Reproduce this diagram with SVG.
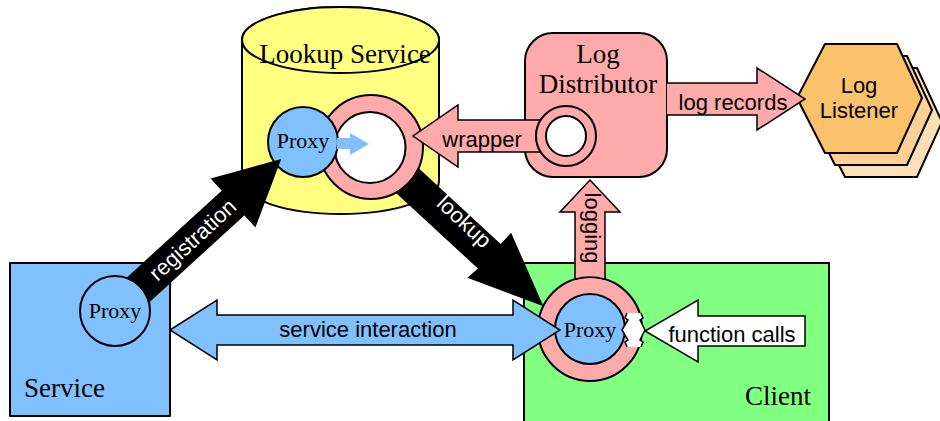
<svg xmlns="http://www.w3.org/2000/svg" width="940" height="421" viewBox="0 0 940 421">
  <style>
    .ol { stroke: #000; stroke-width: 2; stroke-linejoin: round; }
    .thin { stroke: #000; stroke-width: 1.5; stroke-linejoin: miter; }
    .yellow { fill: #ffff80; }
    .pink { fill: #ffaaaa; }
    .blue { fill: #80c0ff; }
    .green { fill: #80ff80; }
    .white { fill: #ffffff; }
    .serif { font-family: "Liberation Serif", "Times New Roman", serif; fill: #000; }
    .sans { font-family: "Liberation Sans", Arial, sans-serif; fill: #000; }
    .big { font-size: 27px; }
    .proxy { font-size: 22px; text-anchor: middle; }
    .lbl { font-size: 22px; text-anchor: middle; }
    .inv { fill: #ffffff; }
  </style>

  <!-- Lookup Service: cylinder with a wrapped proxy inside -->
  <g id="lookup-service">
    <path class="yellow ol" d="M242,40 L242,181 A98.5,33 0 0 0 439,181 L439,40 A98.5,33 0 0 0 242,40 Z"/>
    <ellipse class="yellow ol" cx="340.5" cy="40" rx="98.5" ry="33"/>
    <text class="serif big" x="345" y="63" text-anchor="middle">Lookup Service</text>
    <circle class="pink ol" cx="371" cy="147" r="52"/>
    <circle class="white ol" cx="370" cy="147.5" r="35.5"/>
    <circle class="blue ol" cx="303" cy="142" r="35"/>
    <text class="serif proxy" x="303" y="148">Proxy</text>
  </g>

  <!-- Log Distributor -->
  <g id="log-distributor">
    <rect class="pink ol" x="525" y="33" width="142" height="144" rx="28" ry="28"/>
    <text class="serif big" x="598" y="63" text-anchor="middle">Log</text>
    <text class="serif big" x="598" y="93" text-anchor="middle">Distributor</text>
  </g>

  <!-- Log Listener: a stack of three hexagons -->
  <g id="log-listener">
    <polygon class="ol" fill="#fddfb6" points="817,122 845,68 917,68 942,122 917,177 845,177"/>
    <polygon class="ol" fill="#fcd096" points="807,110 835,56 907,56 932,110 907,165 835,165"/>
    <polygon class="ol" fill="#fbc26b" points="797,98 825,44 897,44 922,98 897,153 825,153"/>
    <text class="sans lbl" x="859" y="93">Log</text>
    <text class="sans lbl" x="859" y="118">Listener</text>
  </g>

  <!-- Service -->
  <g id="service">
    <rect class="blue ol" x="10" y="263" width="160" height="153"/>
    <text class="serif big" x="24" y="397">Service</text>
    <circle class="blue ol" cx="115" cy="311" r="35"/>
    <text class="serif proxy" x="115" y="318">Proxy</text>
  </g>

  <!-- Client with its wrapped proxy -->
  <g id="client">
    <rect class="green ol" x="524" y="263" width="305" height="170"/>
    <text class="serif big" x="745" y="405">Client</text>
    <circle class="pink ol" cx="590" cy="329" r="52"/>
    <circle class="blue ol" cx="590" cy="329" r="35"/>
    <text class="serif proxy" x="590" y="337">Proxy</text>
    <polygon class="white" points="627,313 641,313 643,318 640,320 645,330 640,340 643,342 641,347 627,347 625,342 628,340 622,330 628,320 625,318"/>
    <polyline fill="none" class="thin" points="627,313 625,318 628,320 622,330 628,340 625,342 627,347"/>
    <polyline fill="none" class="thin" points="641,313 643,318 640,320 645,330 640,340 643,342 641,347"/>
  </g>

  <!-- Connectors -->
  <g id="connectors">
    <!-- proxy handed into the wrapper -->
    <polygon class="blue" points="337,138 350,138 350,133 369,144 350,155 350,149 337,149"/>

    <!-- registration -->
    <path fill="#000" class="thin" d="M127.16,278.19 L222.73,190.73 L211.93,178.93 L280,160 L255.13,226.13 L244.33,214.33 L148.76,301.79 A35,35 0 0 0 127.16,278.19 Z"/>
    <text class="sans lbl inv" transform="translate(193,240) rotate(-42.5)" x="0" y="7">registration</text>

    <!-- lookup -->
    <path fill="#000" class="thin" d="M418.2,168.83 L500.71,245.06 L510.89,234.04 L542,305 L468.81,277.58 L478.99,268.56 L396.48,192.33 A52,52 0 0 0 418.2,168.83 Z"/>
    <text class="sans lbl inv" transform="translate(464,222) rotate(43)" x="0" y="7">lookup</text>

    <!-- wrapper -->
    <path class="pink thin" d="M540.62,120 L458,120 L458,105 L413,136 L458,167 L458,152 L540.62,152 A30,30 0 0 1 540.62,120 Z"/>
    <text class="sans lbl" x="482" y="147">wrapper</text>

    <!-- ring on the log distributor, over the wrapper tail -->
    <circle class="pink ol" cx="566" cy="136" r="30"/>
    <circle class="white ol" cx="566" cy="136" r="20"/>

    <!-- log records -->
    <path class="pink thin" d="M667,83 L757,83 L757,68 L805,99 L757,130 L757,115 L667,115"/>
    <text class="sans lbl" x="733" y="110">log records</text>

    <!-- logging -->
    <path class="pink thin" d="M575,279.21 L575,212 L560,212 L590,180 L620,212 L605,212 L605,279.21 A52,52 0 0 0 575,279.21 Z"/>
    <text class="sans lbl" transform="translate(592,228) rotate(90)" x="0" y="7">logging</text>

    <!-- service interaction -->
    <polygon class="blue thin" points="170,330 217,300 217,315 513,315 513,300 560,330 513,360 513,345 217,345 217,360"/>
    <text class="sans lbl" x="368" y="337">service interaction</text>

    <!-- function calls -->
    <path class="white thin" d="M805,316 L698,316 L698,300 L645,331 L698,362 L698,346 L805,346 Z"/>
    <text class="sans lbl" x="732" y="342">function calls</text>
  </g>
</svg>
